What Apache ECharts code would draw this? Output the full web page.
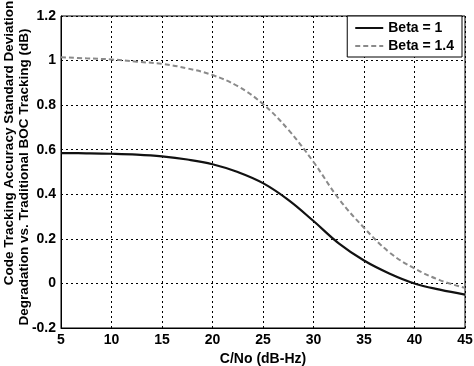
<!DOCTYPE html>
<html><head><meta charset="utf-8">
<script src="https://cdn.jsdelivr.net/npm/echarts@6/dist/echarts.min.js"></script>
<style>html,body{margin:0;padding:0;background:#fff}#c{width:474px;height:366px}</style>
</head><body><div id="c"></div>
<script>
const cn0 = [5, 7.5, 10, 12.5, 15, 17.5, 20, 22.5, 25, 27.5, 30, 32.5, 35, 37.5, 40, 42.5, 45];
const beta1 = [0.585, 0.584, 0.582, 0.578, 0.570, 0.556, 0.535, 0.500, 0.450, 0.375, 0.280, 0.180, 0.103, 0.045, 0.000, -0.028, -0.050];
const beta14 = [1.015, 1.010, 1.005, 0.995, 0.985, 0.965, 0.935, 0.885, 0.805, 0.690, 0.545, 0.380, 0.250, 0.140, 0.067, 0.015, -0.020];
const xTicks = [5, 10, 15, 20, 25, 30, 35, 40, 45];
const yTicks = [-0.2, 0, 0.2, 0.4, 0.6, 0.8, 1, 1.2];
const names = ['Beta = 1', 'Beta = 1.4'];
const yTitle = ['Code Tracking Accuracy Standard Deviation', 'Degradation vs. Traditional BOC Tracking (dB)'];

const font = 'Liberation Sans, Arial, sans-serif';
const chart = echarts.init(document.getElementById('c'));
chart.setOption({
  animation: false,
  backgroundColor: '#fff',
  grid: {left: 61, right: 9, top: 16, bottom: 38, show: true, borderColor: '#000', borderWidth: 1, outerBoundsMode: 'none', containLabel: false},
  legend: {
    orient: 'vertical', right: 12, top: 16,
    data: names,
    backgroundColor: '#fff', borderColor: '#000', borderWidth: 1,
    padding: [5, 8, 4, 7], itemGap: 4, itemWidth: 28, itemHeight: 10,
    itemStyle: {opacity: 0},
    textStyle: {fontFamily: font, fontWeight: 'bold', fontSize: 14, color: '#000'}
  },
  graphic: [
    {type: 'text', x: 9, y: 143, rotation: Math.PI / 2,
     style: {text: yTitle[0], align: 'center', verticalAlign: 'middle', font: 'bold 13.5px ' + font, fill: '#000'}},
    {type: 'text', x: 24, y: 177, rotation: Math.PI / 2,
     style: {text: yTitle[1], align: 'center', verticalAlign: 'middle', font: 'bold 13.5px ' + font, fill: '#000'}}
  ],
  xAxis: {
    type: 'value', min: 5, max: 45, interval: 5,
    name: 'C/No (dB-Hz)', nameLocation: 'middle', nameGap: 23,
    nameTextStyle: {fontFamily: font, fontWeight: 'bold', fontSize: 14, color: '#000'},
    axisLine: {show: true, onZero: false, lineStyle: {color: '#000'}},
    axisTick: {show: false},
    axisLabel: {fontFamily: font, fontWeight: 'bold', fontSize: 14, color: '#000', margin: 5,
      formatter: v => xTicks.includes(v) ? String(v) : ''},
    splitLine: {show: true, lineStyle: {color: '#000', type: [2, 3], width: 1}}
  },
  yAxis: {
    type: 'value', min: -0.2, max: 1.2, interval: 0.2,
    axisLine: {show: true, onZero: false, lineStyle: {color: '#000'}},
    axisTick: {show: false},
    axisLabel: {fontFamily: font, fontWeight: 'bold', fontSize: 14, color: '#000', margin: 5,
      formatter: v => { const r = Math.round(v * 10) / 10; return yTicks.some(t => Math.abs(t - r) < 1e-9) ? String(r) : ''; }},
    splitLine: {show: true, lineStyle: {color: '#000', type: [2, 3], width: 1}}
  },
  series: [
    {name: names[0], type: 'line', smooth: 0.4, symbol: 'none',
     data: cn0.map((x, i) => [x, beta1[i]]),
     lineStyle: {color: '#111', width: 2.2}, itemStyle: {color: '#111'}},
    {name: names[1], type: 'line', smooth: 0.4, symbol: 'none',
     data: cn0.map((x, i) => [x, beta14[i]]),
     lineStyle: {color: '#8a8a8a', width: 2, type: [5, 3]}, itemStyle: {color: '#8a8a8a'}}
  ]
});
</script></body></html>
